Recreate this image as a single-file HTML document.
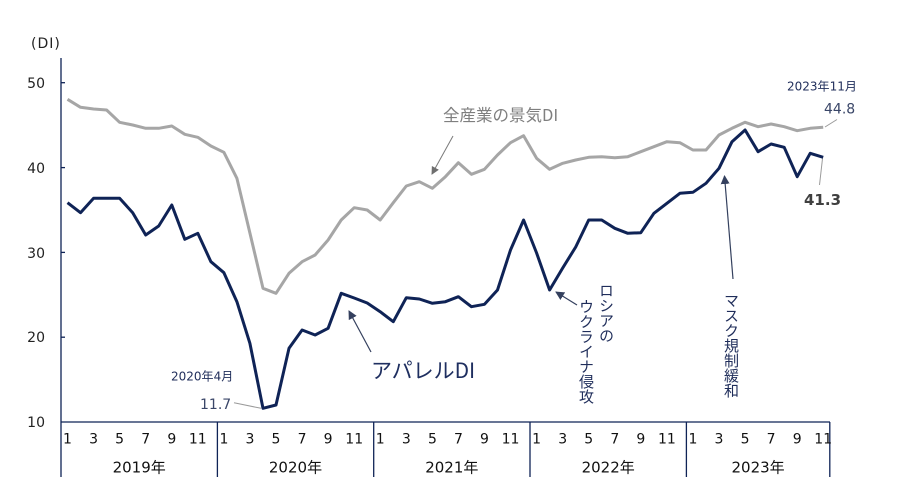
<!DOCTYPE html>
<html><head><meta charset="utf-8"><style>
html,body{margin:0;padding:0;background:#fff;}
svg{display:block;}
text{font-family:"DejaVu Sans","Liberation Sans","Noto Sans CJK JP",sans-serif;}
.jp{font-family:"Noto Sans CJK JP","Liberation Sans",sans-serif;}
</style></head><body>
<svg width="898" height="480" viewBox="0 0 898 480" xmlns="http://www.w3.org/2000/svg">
<defs>
<marker id="ag" markerWidth="8" markerHeight="8" refX="7" refY="4" orient="auto" markerUnits="userSpaceOnUse"><path d="M0,0 L8,4 L0,8 z" fill="#6f6f6f"/></marker>
<marker id="an" markerWidth="9" markerHeight="9" refX="8" refY="4.5" orient="auto" markerUnits="userSpaceOnUse"><path d="M0,0 L9,4.5 L0,9 z" fill="#34405e"/></marker>
</defs>
<!-- axes -->
<line x1="61" y1="58" x2="61" y2="477" stroke="#0f2356" stroke-width="1.3"/>
<line x1="61" y1="422" x2="830" y2="422" stroke="#0f2356" stroke-width="1.3"/>
<g stroke="#0f2356" stroke-width="1.3">
<line x1="217.4" y1="422" x2="217.4" y2="477"/>
<line x1="373.7" y1="422" x2="373.7" y2="477"/>
<line x1="530" y1="422" x2="530" y2="477"/>
<line x1="686.4" y1="422" x2="686.4" y2="477"/>
<line x1="829.8" y1="422" x2="829.8" y2="477"/>
<line x1="61" y1="82.7" x2="65" y2="82.7"/>
<line x1="61" y1="167.6" x2="65" y2="167.6"/>
<line x1="61" y1="252.4" x2="65" y2="252.4"/>
<line x1="61" y1="337.2" x2="65" y2="337.2"/>
</g>
<text x="31" y="48" font-size="14" letter-spacing="1" fill="#222">(DI)</text>
<g font-size="14" fill="#222" text-anchor="end">
<text x="45" y="88">50</text>
<text x="45" y="173">40</text>
<text x="45" y="258">30</text>
<text x="45" y="342">20</text>
<text x="45" y="427">10</text>
</g>
<!-- month labels -->
<g font-size="14" fill="#111" text-anchor="middle">
<text x="67.5" y="443.5">1</text><text x="93.6" y="443.5">3</text><text x="119.6" y="443.5">5</text><text x="145.7" y="443.5">7</text><text x="171.8" y="443.5">9</text><text x="197.8" y="443.5">11</text>
<text x="223.9" y="443.5">1</text><text x="249.9" y="443.5">3</text><text x="276" y="443.5">5</text><text x="302.1" y="443.5">7</text><text x="328.1" y="443.5">9</text><text x="354.2" y="443.5">11</text>
<text x="380.2" y="443.5">1</text><text x="406.3" y="443.5">3</text><text x="432.4" y="443.5">5</text><text x="458.4" y="443.5">7</text><text x="484.5" y="443.5">9</text><text x="510.5" y="443.5">11</text>
<text x="536.6" y="443.5">1</text><text x="562.7" y="443.5">3</text><text x="588.7" y="443.5">5</text><text x="614.8" y="443.5">7</text><text x="640.8" y="443.5">9</text><text x="666.9" y="443.5">11</text>
<text x="692.9" y="443.5">1</text><text x="719" y="443.5">3</text><text x="745.1" y="443.5">5</text><text x="771.1" y="443.5">7</text><text x="797.2" y="443.5">9</text><text x="823.2" y="443.5">11</text>
</g>
<g font-size="15" fill="#111" text-anchor="middle">
<text x="139.2" y="472.5">2019<tspan class="jp">年</tspan></text>
<text x="295.5" y="472.5">2020<tspan class="jp">年</tspan></text>
<text x="451.8" y="472.5">2021<tspan class="jp">年</tspan></text>
<text x="608.2" y="472.5">2022<tspan class="jp">年</tspan></text>
<text x="758.1" y="472.5">2023<tspan class="jp">年</tspan></text>
</g>
<!-- gray series -->
<polyline fill="none" stroke="#a6a6a6" stroke-width="3" stroke-linejoin="round" points="67.5,99.3 80.5,107.3 93.6,109 106.6,110 119.6,122.3 132.7,125 145.7,128.3 158.7,128.3 171.8,126 184.8,134.3 197.8,137.3 210.9,146 223.9,152.3 236.9,178.3 249.9,233 263,288.3 276,293.3 289,273.3 302.1,261.7 315.1,255 328.1,240 341.2,220 354.2,207.7 367.2,210 380.2,220 393.3,202.7 406.3,186 419.3,181.7 432.4,188.3 445.4,176.7 458.4,162.7 471.4,174.3 484.5,169.3 497.5,155 510.5,142.7 523.6,135.7 536.6,158.3 549.6,169.3 562.7,163.3 575.7,160 588.7,157.3 601.7,156.7 614.8,157.7 627.8,156.7 640.8,151.7 653.9,146.7 666.9,141.7 679.9,142.7 692.9,150 706,150 719,135 732,128.3 745.1,122.3 758.1,126.7 771.1,124 784.2,126.7 797.2,130.7 810.2,128.3 823.2,127.3"/>
<!-- navy series -->
<polyline fill="none" stroke="#0f2356" stroke-width="3" stroke-linejoin="round" points="67.5,202.7 80.5,212.7 93.6,198.3 106.6,198.3 119.6,198.3 132.7,212.7 145.7,235 158.7,226 171.8,205 184.8,239.3 197.8,233.3 210.9,261.7 223.9,272.7 236.9,301.7 249.9,343.3 263,408.3 276,405 289,348.3 302.1,330 315.1,335 328.1,328.3 341.2,293.3 354.2,298 367.2,303 380.2,311.7 393.3,321.7 406.3,297.7 419.3,299 432.4,303.3 445.4,301.7 458.4,296.7 471.4,306.7 484.5,304.3 497.5,290 510.5,250 523.6,220 536.6,253 549.6,290 562.7,268 575.7,247 588.7,220 601.7,220 614.8,228.3 627.8,233.3 640.8,232.7 653.9,213.3 666.9,203.3 679.9,193.3 692.9,192.3 706,183.3 719,168.3 732,141.7 745.1,130 758.1,151.7 771.1,144 784.2,147.3 797.2,176.7 810.2,153.3 823.2,157.3"/>
<!-- annotations -->
<text class="jp" x="443" y="121" font-size="16.5" fill="#7f7f7f">全産業の景気DI</text>
<line x1="453" y1="136" x2="432" y2="174" stroke="#7a7a7a" stroke-width="1" marker-end="url(#ag)"/>
<text class="jp" x="371" y="378" font-size="21" fill="#1f2f60">アパレルDI</text>
<line x1="371" y1="352" x2="349" y2="311" stroke="#34405e" stroke-width="1.2" marker-end="url(#an)"/>
<line x1="577" y1="305" x2="556" y2="292" stroke="#34405e" stroke-width="1.2" marker-end="url(#an)"/>
<text class="jp" x="606.5" y="283" font-size="15" fill="#1f2d5a" style="writing-mode:vertical-rl" writing-mode="tb">ロシアの</text>
<text class="jp" x="586.5" y="299" font-size="15" fill="#1f2d5a" style="writing-mode:vertical-rl" writing-mode="tb">ウクライナ侵攻</text>
<line x1="733" y1="279" x2="724.5" y2="176" stroke="#34405e" stroke-width="1.2" marker-end="url(#an)"/>
<text class="jp" x="731.5" y="293" font-size="15" fill="#1f2d5a" style="writing-mode:vertical-rl" writing-mode="tb">マスク規制緩和</text>
<text x="787" y="90.5" font-size="12" fill="#1f2d5a">2023<tspan class="jp">年</tspan>11<tspan class="jp">月</tspan></text>
<text x="824" y="113.5" font-size="14" fill="#3a4668">44.8</text>
<line x1="825" y1="127" x2="837" y2="119.5" stroke="#9a9a9a" stroke-width="1"/>
<text x="804" y="205" font-size="15" font-weight="bold" fill="#404040">41.3</text>
<line x1="822.5" y1="158.5" x2="819.5" y2="185" stroke="#9a9a9a" stroke-width="1"/>
<text x="171" y="380.5" font-size="12" fill="#1f2d5a">2020<tspan class="jp">年</tspan>4<tspan class="jp">月</tspan></text>
<text x="200" y="409" font-size="14" fill="#3a4668">11.7</text>
<line x1="234" y1="402.7" x2="261" y2="408.3" stroke="#9a9a9a" stroke-width="1"/>
</svg>
</body></html>
